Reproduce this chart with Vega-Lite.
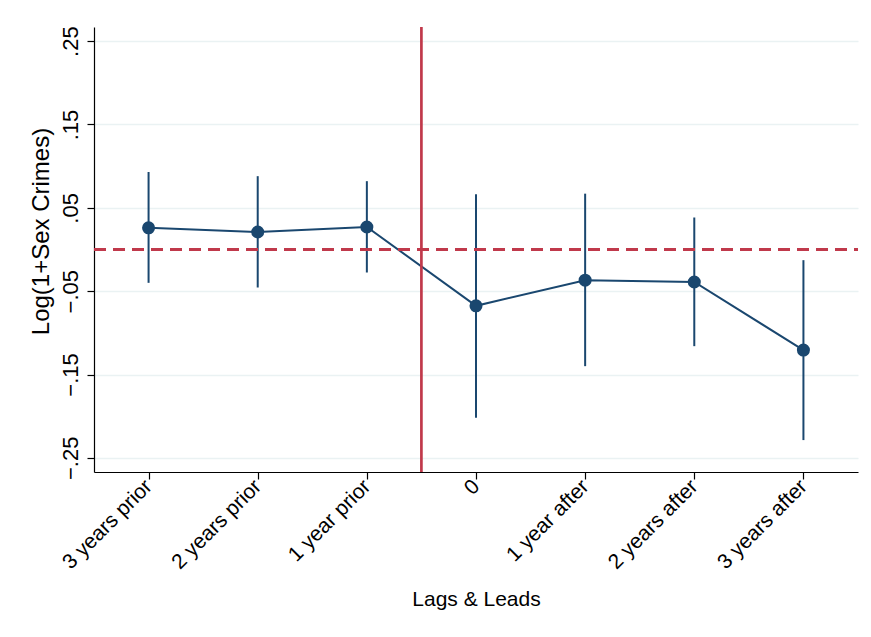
{
  "$schema": "https://vega.github.io/schema/vega-lite/v6.json",
  "autosize": "none",
  "width": 764,
  "height": 445,
  "padding": {"left": 94, "top": 27, "right": 13, "bottom": 165},
  "background": "white",
  "config": {
    "view": {"stroke": null},
    "font": "Liberation Sans",
    "axis": {"labelFont": "Liberation Sans", "titleFont": "Liberation Sans", "labelColor": "#000", "titleColor": "#000", "titleFontWeight": "normal", "domainColor": "#000", "tickColor": "#000", "domainWidth": 1.2, "tickWidth": 1.2}
  },
  "data": {
    "values": [
      {"t": -3, "b": 0.026, "lo": -0.040, "hi": 0.093},
      {"t": -2, "b": 0.021, "lo": -0.0456, "hi": 0.088},
      {"t": -1, "b": 0.027, "lo": -0.0276, "hi": 0.082},
      {"t": 0, "b": -0.0676, "lo": -0.202, "hi": 0.0663},
      {"t": 1, "b": -0.0368, "lo": -0.140, "hi": 0.067},
      {"t": 2, "b": -0.039, "lo": -0.116, "hi": 0.0384},
      {"t": 3, "b": -0.1207, "lo": -0.2287, "hi": -0.0128}
    ]
  },
  "encoding": {
    "x": {
      "field": "t", "type": "quantitative",
      "scale": {"domain": [-3.5, 3.5], "nice": false, "zero": false},
      "axis": {
        "title": "Lags & Leads", "titleFontSize": 21, "titlePadding": 16,
        "values": [-3, -2, -1, 0, 1, 2, 3],
        "labelExpr": "['3 years prior','2 years prior','1 year prior','0','1 year after','2 years after','3 years after'][datum.value + 3]",
        "labelAngle": -45, "labelAlign": "right", "labelBaseline": "middle",
        "labelFontSize": 21, "labelPadding": 4, "tickSize": 7, "grid": false
      }
    },
    "y": {
      "field": "b", "type": "quantitative",
      "scale": {"domain": [-0.267, 0.267], "nice": false, "zero": false},
      "axis": {
        "title": "Log(1+Sex Crimes)", "titleFontSize": 24, "titlePadding": 6, "titleY": 204,
        "values": [-0.25, -0.15, -0.05, 0.05, 0.15, 0.25],
        "labelExpr": "replace(format(datum.value, '.2f'), '0.', '.')",
        "labelAngle": -90, "labelAlign": "center", "labelBaseline": "bottom",
        "labelFontSize": 22, "labelPadding": 5, "tickSize": 7,
        "grid": true, "gridColor": "#eaf2f3", "gridWidth": 1.5
      }
    }
  },
  "layer": [
    {
      "mark": {"type": "rule", "color": "#1a476f", "strokeWidth": 2},
      "encoding": {"y": {"field": "lo", "type": "quantitative"}, "y2": {"field": "hi"}}
    },
    {
      "mark": {"type": "line", "color": "#1a476f", "strokeWidth": 2}
    },
    {
      "mark": {"type": "point", "filled": true, "opacity": 1, "color": "#1a476f", "size": 170, "shape": "circle"}
    },
    {
      "mark": {"type": "rule", "color": "#c0394b", "strokeWidth": 2, "strokeDash": [12, 7]},
      "encoding": {"x": {"value": 0}, "x2": {"value": 764}, "y": {"datum": 0}}
    },
    {
      "mark": {"type": "rule", "color": "#c0394b", "strokeWidth": 1.5},
      "encoding": {"x": {"datum": -0.5}, "y": {"value": 0}, "y2": {"value": 445}}
    }
  ]
}
